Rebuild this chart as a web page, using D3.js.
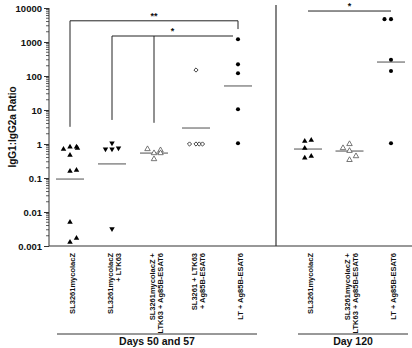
<!DOCTYPE html>
<html>
<head>
<meta charset="utf-8">
<script src="https://cdn.jsdelivr.net/npm/d3@7"></script>
<style>
  body { margin: 0; background: #fff; }
  svg text { font-family: "Liberation Sans", Arial, sans-serif; font-weight: bold; fill: #111; }
</style>
</head>
<body>
<div id="chart"></div>
<script>
const W = 412, H = 348;

// categories (multi-line labels)
const day50Labels = [
  ["SL3261mycolacZ"],
  ["SL3261mycolacZ", "+ LTK63"],
  ["SL3261mycolacZ +", "LTK63 + Ag85B-ESAT6"],
  ["SL3261 + LTK63", "+ Ag85B-ESAT6"],
  ["LT + Ag85B-ESAT6"]
];
const day120Labels = [
  ["SL3261mycolacZ"],
  ["SL3261mycolacZ +", "LTK63 + Ag85B-ESAT6"],
  ["LT + Ag85B-ESAT6"]
];
const panelTitles = ["Days 50 and 57", "Day 120"];

// IgG1:IgG2a ratios per group (day 50/57 groups first, then day 120)
const ratios = [
  [0.71, 0.82, 0.82, 0.76, 0.47, 0.16, 0.17, 0.005, 0.0013, 0.0017],
  [1.07, 0.71, 0.71, 0.76, 0.0032],
  [0.71, 0.54, 0.66, 0.54, 0.36],
  [1, 1, 1, 1, 150],
  [1200, 220, 120, 10.5, 1.05],
  [1.22, 1.3, 0.76, 0.39, 0.44],
  [0.76, 1, 0.63, 0.34, 0.44],
  [4700, 4700, 300, 140, 1.05]
];
// column of each point inside its cluster (-1 left, 0 centre, 1 right)
const slots = [
  [-1, 0, 1, 1.15, 0, 0, 1, 0, 0, 1],
  [0, -1, 0, 1, 0],
  [-1, 0, 1, 1, 0],
  [-1, 0, 0.5, 1, 0],
  [0, 0, 0, 0, 0],
  [-0.5, 0.5, -0.5, -0.5, 0.5],
  [-1, 0, 0, 0, 1],
  [-1, 0, 0, 0, 0]
];
const means = [0.093, 0.26, 0.54, 2.95, 51, 0.71, 0.62, 257];
const markers = ["up", "down", "open", "diamond", "circle", "up", "open", "circle"];

// significance brackets: groups joined, bar level, leg ends
const brackets = [
  {label: "**", from: 0, to: 4, level: 4200, legs: [[0, 3.2], [4, 2400]]},
  {label: "*", from: 1, to: 4, level: 1500, legs: [[1, 5.1], [2, 4.2]], endShift: -5},
  {label: "*", from: 5, to: 7, level: 8150, legs: []}
];

const yTicks = [0.001, 0.01, 0.1, 1, 10, 100, 1000, 10000];

const svg = d3.select("#chart").append("svg")
  .attr("width", W).attr("height", H);

const y = d3.scaleLog().domain([0.001, 10000]).range([246, 8]);
const x50 = d3.scalePoint().domain(d3.range(5)).range([70, 238]);
const x120 = d3.scalePoint().domain(d3.range(3)).range([308, 391]);
const xc = i => i < 5 ? x50(i) : x120(i - 5);
const SLOT = 6.5;

// y axis
const yAxis = d3.axisLeft(y)
  .tickValues(yTicks)
  .tickFormat(d => d >= 1 ? String(d) : String(+d.toPrecision(1)))
  .tickSize(5).tickPadding(2);
const gy = svg.append("g").attr("transform", "translate(49,0)").call(yAxis);
gy.select(".domain").attr("stroke", "#333").attr("d", "M0,246V8");
gy.selectAll(".tick line").attr("stroke", "#333");
gy.selectAll(".tick text").style("font-size", "9.5px").attr("fill", "#111");

// minor ticks
const minor = [];
yTicks.slice(0, -1).forEach(t => { for (let k = 2; k < 10; k++) minor.push(t * k); });
svg.append("g").selectAll("line").data(minor).join("line")
  .attr("x1", 46).attr("x2", 49)
  .attr("y1", d => y(d)).attr("y2", d => y(d))
  .attr("stroke", "#333").attr("stroke-width", 0.8);

// bottom axis and panel divider
svg.append("line").attr("x1", 49).attr("x2", W).attr("y1", 246).attr("y2", 246)
  .attr("stroke", "#333").attr("stroke-width", 1.2);
svg.append("line").attr("x1", 276).attr("x2", 276).attr("y1", 5).attr("y2", 246)
  .attr("stroke", "#333").attr("stroke-width", 1.2);

svg.append("text")
  .attr("transform", `translate(16,127) rotate(-90)`)
  .attr("text-anchor", "middle")
  .style("font-size", "10px")
  .text("IgG1:IgG2a Ratio");

// category labels
const allLabels = day50Labels.concat(day120Labels);
allLabels.forEach((lines, i) => {
  const n = lines.length;
  lines.forEach((s, j) => {
    const xx = xc(i) + 2 + (j - (n - 1) / 2) * 8;
    svg.append("text")
      .attr("transform", `translate(${xx},253) rotate(-90)`)
      .attr("text-anchor", "end")
      .attr("dy", "0.35em")
      .style("font-size", "7.5px")
      .attr("fill", "#222")
      .text(s);
  });
});

// panel titles with lines
const panels = [[57, 257], [298, 408]];
panels.forEach((p, i) => {
  svg.append("line").attr("x1", p[0]).attr("x2", p[1]).attr("y1", 334).attr("y2", 334)
    .attr("stroke", "#333");
  svg.append("text").attr("x", (p[0] + p[1]) / 2).attr("y", 345)
    .attr("text-anchor", "middle").style("font-size", "10.5px")
    .text(panelTitles[i]);
});

// mean lines
svg.append("g").selectAll("line").data(means).join("line")
  .attr("x1", (d, i) => xc(i) - 14).attr("x2", (d, i) => xc(i) + 14)
  .attr("y1", d => y(d)).attr("y2", d => y(d))
  .attr("stroke", "#8a8a8a").attr("stroke-width", 1.5);

// points
const pts = [];
ratios.forEach((vals, i) => vals.forEach((v, j) => pts.push({g: i, v: v, s: slots[i][j], m: markers[i]})));

const sym = {
  up: d3.symbol().type(d3.symbolTriangle).size(13),
  down: d3.symbol().type(d3.symbolTriangle).size(13),
  open: d3.symbol().type(d3.symbolTriangle).size(13),
  diamond: d3.symbol().type(d3.symbolSquare).size(9),
  circle: d3.symbol().type(d3.symbolCircle).size(13)
};
svg.append("g").selectAll("path").data(pts).join("path")
  .attr("d", d => sym[d.m]())
  .attr("transform", d => {
    const px = xc(d.g) + d.s * SLOT, py = y(d.v);
    const rot = d.m === "down" ? 180 : d.m === "diamond" ? 45 : 0;
    return `translate(${px},${py}) rotate(${rot})`;
  })
  .attr("fill", d => (d.m === "open" || d.m === "diamond") ? "#fff" : "#000")
  .attr("stroke", d => d.m === "open" ? "#555" : d.m === "diamond" ? "#222" : "none")
  .attr("stroke-width", 0.8);

// significance brackets
brackets.forEach(b => {
  const yb = y(b.level);
  const x1 = xc(b.from), x2 = xc(b.to) + (b.endShift || 0);
  svg.append("line").attr("x1", x1).attr("x2", x2).attr("y1", yb).attr("y2", yb)
    .attr("stroke", "#222");
  b.legs.forEach(l => {
    svg.append("line").attr("x1", xc(l[0])).attr("x2", xc(l[0]))
      .attr("y1", yb).attr("y2", y(l[1])).attr("stroke", "#222");
  });
  svg.append("text").attr("x", (x1 + x2) / 2).attr("y", yb - 2)
    .attr("text-anchor", "middle").style("font-size", "9px").text(b.label);
});
</script>
</body>
</html>
